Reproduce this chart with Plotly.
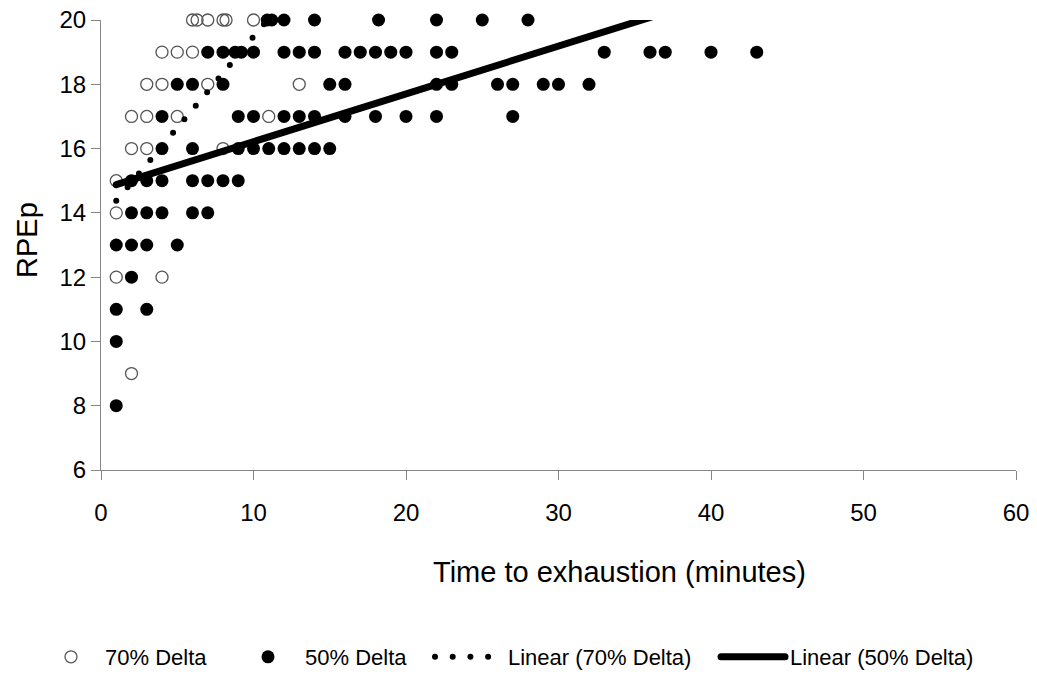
import plotly.graph_objects as go
import numpy as np

# ---- data ----
# 70% Delta (open circles): time to exhaustion (min), RPEp
t70 = [6.0, 6.3, 7.0, 8.0, 8.2, 10.0,
       4, 5, 6,
       3, 4, 7, 13,
       2, 3, 5, 11,
       2, 3, 8,
       1,
       1,
       1, 4,
       2]
r70 = [20, 20, 20, 20, 20, 20,
       19, 19, 19,
       18, 18, 18, 18,
       17, 17, 17, 17,
       16, 16, 16,
       15,
       14,
       12, 12,
       9]

# 50% Delta (filled circles)
t50 = [10.9, 11.2, 12, 14, 18.2, 22, 25, 28,
       7, 8, 8.8, 9.2, 10, 12, 13, 14, 16, 17, 18, 19, 20, 22, 23, 33, 36, 37, 40, 43,
       5, 6, 8, 15, 16, 22, 23, 26, 27, 29, 30, 32,
       4, 9, 10, 12, 13, 14, 16, 18, 20, 22, 27,
       4, 6, 9, 10, 11, 12, 13, 14, 15,
       2, 3, 4, 6, 7, 8, 9,
       2, 3, 4, 6, 7,
       1, 2, 3, 5,
       2,
       1, 3,
       1,
       1]
r50 = [20] * 8 + [19] * 20 + [18] * 12 + [17] * 11 + [16] * 9 + [15] * 7 + \
      [14] * 5 + [13] * 4 + [12] * 1 + [11] * 2 + [10] * 1 + [8] * 1

# linear trend lines (intercept, slope)
trend70 = [13.81, 0.567]
trend50 = [14.73, 0.1486]

series_names = ["70% Delta", "50% Delta", "Linear (70% Delta)", "Linear (50% Delta)"]
x_ticks = [0, 10, 20, 30, 40, 50, 60]
y_ticks = [6, 8, 10, 12, 14, 16, 18, 20]
x_title = "Time to exhaustion (minutes)"
y_title = "RPEp"

# ---- figure ----
FONT = "Liberation Sans, Arial, sans-serif"
AXCOL = "#868686"

fig = go.Figure()

fig.add_trace(go.Scatter(
    x=t70, y=r70, mode="markers", name=series_names[0], legend="legend",
    cliponaxis=False,
    marker=dict(symbol="circle-open", size=12, color="#555555", line=dict(width=1.3, color="#555555")),
))
fig.add_trace(go.Scatter(
    x=t50, y=r50, mode="markers", name=series_names[1], legend="legend2",
    cliponaxis=False,
    marker=dict(symbol="circle", size=13, color="black"),
))

x70 = np.array([min(t70), max(t70)])
fig.add_trace(go.Scatter(
    x=x70, y=trend70[0] + trend70[1] * x70, mode="lines", name=series_names[2], legend="legend3",
    line=dict(color="black", width=6, dash="0px,17.7px"),
))
x50 = np.array([min(t50), max(t50)])
fig.add_trace(go.Scatter(
    x=x50, y=trend50[0] + trend50[1] * x50, mode="lines", name=series_names[3], legend="legend4",
    line=dict(color="black", width=7),
))

W, H = 1037, 675
ML, MR, MT, MB = 101, 21, 20, 205
PW, PH = W - ML - MR, H - MT - MB


def px_x(px):
    return (px - ML) / PW


def px_y(py):
    return (H - MB - py) / PH


LEG_Y = 657
leg_common = dict(orientation="h", yanchor="middle", xanchor="left",
                  font=dict(family=FONT, size=22, color="black"),
                  bgcolor="rgba(0,0,0,0)", borderwidth=0)

fig.update_layout(
    width=W, height=H,
    margin=dict(l=ML, r=MR, t=MT, b=MB, autoexpand=False),
    paper_bgcolor="white", plot_bgcolor="white",
    font=dict(family=FONT, color="black"),
    showlegend=True,
    legend=dict(x=px_x(37), y=px_y(LEG_Y), itemwidth=58, **leg_common),
    legend2=dict(x=px_x(231), y=px_y(LEG_Y), itemwidth=64, **leg_common),
    legend3=dict(x=px_x(430), y=px_y(LEG_Y), itemwidth=68, **leg_common),
    legend4=dict(x=px_x(716), y=px_y(LEG_Y), itemwidth=64, **leg_common),
    xaxis=dict(
        range=[0, 60], tickvals=x_ticks, showgrid=False, zeroline=False,
        showline=True, linecolor=AXCOL, linewidth=1,
        ticks="outside", ticklen=9, tickcolor=AXCOL, tickwidth=1,
        tickfont=dict(family=FONT, size=24, color="black"),
        ticklabelstandoff=12,
        automargin=False,
    ),
    yaxis=dict(
        range=[6, 20], tickvals=y_ticks, showgrid=False, zeroline=False,
        showline=True, linecolor=AXCOL, linewidth=1,
        ticks="outside", ticklen=9, tickcolor=AXCOL, tickwidth=1,
        tickfont=dict(family=FONT, size=24, color="black"),
        automargin=False,
    ),
    annotations=[
        dict(text=x_title, xref="paper", yref="paper", x=px_x(619), y=px_y(572),
             xanchor="center", yanchor="middle", showarrow=False,
             font=dict(family=FONT, size=29, color="black")),
        dict(text=y_title, xref="paper", yref="paper", x=px_x(27), y=px_y(240),
             xanchor="center", yanchor="middle", showarrow=False, textangle=-90,
             font=dict(family=FONT, size=29, color="black")),
    ],
)

post = """
document.documentElement.style.margin = '0';
document.documentElement.style.padding = '0';
document.documentElement.style.overflow = 'hidden';
document.body.style.margin = '0';
document.body.style.padding = '0';
document.body.style.overflow = 'hidden';
var gd = document.getElementById('{plot_id}');
function roundCaps(){
  document.querySelectorAll('path.js-line').forEach(function(p){ p.style.strokeLinecap = 'round'; });
}
roundCaps();
setTimeout(roundCaps, 50);
if (gd && gd.on) { gd.on('plotly_afterplot', roundCaps); }
"""

fig.write_html("out.html", post_script=post, config={"displayModeBar": False})
